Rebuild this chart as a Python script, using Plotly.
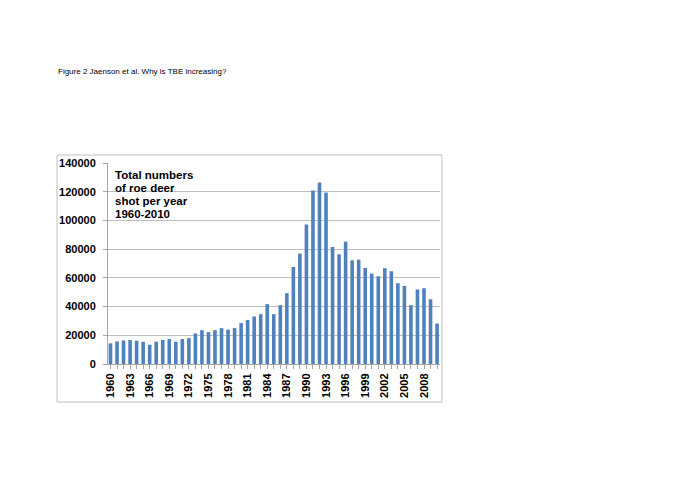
import plotly.graph_objects as go

years = list(range(1960, 2011))
deer_shot = [14400, 15700, 16400, 16700, 16200, 15500, 13400, 15500, 16700, 17400,
             15500, 17400, 18000, 21300, 23600, 22200, 23600, 25000, 24000, 25000,
             28500, 30600, 33100, 34700, 41700, 34700, 41000, 49300, 67600, 76900,
             97200, 120800, 126400, 119400, 81500, 76400, 85200, 72200, 72700, 66900,
             63000, 61100, 66700, 64600, 56300, 54400, 41000, 51900, 52800, 45100,
             28200]
y_ticks = [0, 20000, 40000, 60000, 80000, 100000, 120000, 140000]
x_ticks = list(range(1960, 2010, 3))
note_lines = ["Total numbers", "of roe deer", "shot per year", "1960-2010"]
page_title = "Figure 2 Jaenson et al. Why is TBE increasing?"

W, H = 685, 484
OFF = 8  # page body margin
L, R, T, B = 108 - OFF, 440 - OFF, 163 - OFF, 364 - OFF

def px(x):
    return (x - OFF - L) / (R - L)

def py(y):
    return (B - (y - OFF)) / (B - T)

fig = go.Figure(go.Bar(x=years, y=deer_shot, marker=dict(color="#4F81BD", line=dict(width=0)),
                       width=0.55))

fig.update_layout(
    width=W, height=H,
    margin=dict(l=L, r=W - R, t=T, b=H - B),
    paper_bgcolor="white", plot_bgcolor="white",
    showlegend=False,
    font=dict(family="Liberation Sans, Arial, sans-serif", color="black"),
)
fig.update_xaxes(
    range=[1959.62, 2010.45],
    tickmode="array", tickvals=x_ticks, ticktext=[str(v) for v in x_ticks],
    tickangle=-90,
    tickfont=dict(size=11, family="Liberation Sans, Arial", weight="bold"),
    showline=True, linecolor="#A6A6A6", linewidth=1,
    ticks="outside", ticklen=4, tickcolor="#A6A6A6",
    minor=dict(dtick=1, tick0=1960, ticks="outside", ticklen=4, tickcolor="#A6A6A6", showgrid=False),
    showgrid=False, zeroline=False,
)
fig.update_yaxes(
    range=[0, 140000],
    tickmode="array", tickvals=y_ticks, ticktext=[str(v) for v in y_ticks],
    tickfont=dict(size=11, family="Liberation Sans, Arial", weight="bold"),
    showline=True, linecolor="#A6A6A6", linewidth=1,
    ticks="outside", ticklen=4, tickcolor="#A6A6A6",
    ticklabelstandoff=5,
    showgrid=True, gridcolor="#BFBFBF", gridwidth=1,
    zeroline=False,
)

# chart border
fig.add_shape(type="rect", xref="paper", yref="paper",
              x0=px(57), x1=px(442), y0=py(402), y1=py(155),
              line=dict(color="#BFBFBF", width=1), fillcolor="rgba(0,0,0,0)", layer="below")

# page title
fig.add_annotation(text=page_title, xref="paper", yref="paper", x=px(56), y=py(72),
                   xanchor="left", yanchor="middle", showarrow=False,
                   font=dict(size=8, family="Liberation Sans, Arial", color="black"))

# in-chart note
for i, line in enumerate(note_lines):
    fig.add_annotation(text=line, xref="paper", yref="paper", x=px(113), y=py(174.5 + 13 * i),
                       xanchor="left", yanchor="middle", showarrow=False,
                       font=dict(size=11.5, family="Liberation Sans, Arial", color="black", weight="bold"))

fig.write_html("out.html")
